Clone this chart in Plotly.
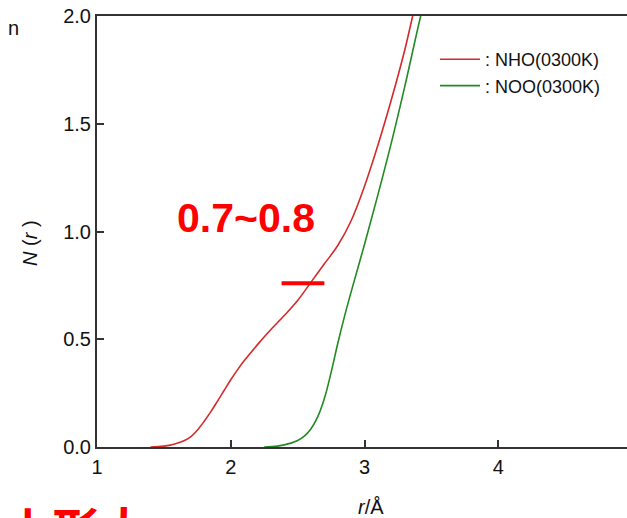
import plotly.graph_objects as go

# NHO (0300K) running coordination number
nho_r = [1.40, 1.50, 1.575, 1.65, 1.70, 1.75, 1.80, 1.85, 1.90, 1.95, 2.00, 2.05, 2.10,
         2.20, 2.30, 2.40, 2.50, 2.60, 2.70, 2.80, 2.90, 3.00, 3.10, 3.20, 3.30, 3.36, 3.40]
nho_n = [0.0, 0.004, 0.013, 0.029, 0.047, 0.078, 0.118, 0.163, 0.212, 0.262, 0.312, 0.358, 0.40,
         0.475, 0.545, 0.61, 0.68, 0.765, 0.85, 0.935, 1.05, 1.21, 1.40, 1.61, 1.84, 2.0, 2.11]

# NOO (0300K)
noo_r = [2.25, 2.35, 2.45, 2.50, 2.55, 2.60, 2.65, 2.70, 2.75, 2.80, 2.85, 2.90, 3.00,
         3.10, 3.20, 3.30, 3.42, 3.45]
noo_n = [0.0, 0.004, 0.018, 0.03, 0.05, 0.085, 0.14, 0.225, 0.345, 0.48, 0.605, 0.72, 0.94,
         1.17, 1.41, 1.67, 2.0, 2.07]

series_names = [": NHO(0300K)", ": NOO(0300K)"]
x_ticks = [1, 2, 3, 4]
y_ticks = [0.0, 0.5, 1.0, 1.5, 2.0]

mark_label = "0.7~0.8"
mark_r = [2.38, 2.70]
mark_n = 0.76

RED = "#d42a2a"
GREEN = "#238a23"
FONT = "Liberation Sans, Arial, sans-serif"

fig = go.Figure()
fig.add_trace(go.Scatter(x=nho_r, y=nho_n, mode="lines", name=series_names[0],
                         line=dict(color=RED, width=1.6, shape="spline", smoothing=1.0)))
fig.add_trace(go.Scatter(x=noo_r, y=noo_n, mode="lines", name=series_names[1],
                         line=dict(color=GREEN, width=1.6, shape="spline", smoothing=1.0)))

# red marker bar
fig.add_shape(type="line", x0=mark_r[0], x1=mark_r[1], y0=mark_n, y1=mark_n,
              xref="x", yref="y", line=dict(color="#ff0000", width=4))

W, H = 627, 518
L, R, T, B = 97, 0, 16, 71
PW, PH = W - L - R, H - T - B
px_per_unit = 133.75
x_max = 1 + PW / px_per_unit


def px(xp):
    return (xp - L) / PW


def py(yp):
    return (H - B - yp) / PH


fig.update_layout(
    width=W, height=H,
    margin=dict(l=L, r=R, t=T, b=B, autoexpand=False),
    paper_bgcolor="white", plot_bgcolor="white",
    font=dict(family=FONT, size=20, color="#111111"),
    showlegend=True,
    legend=dict(x=px(435), y=py(41), xanchor="left", yanchor="top",
                bgcolor="rgba(0,0,0,0)", font=dict(size=18, color="#111111"),
                itemwidth=40, tracegroupgap=0),
    xaxis=dict(range=[1, x_max], tickvals=x_ticks, ticktext=[str(v) for v in x_ticks],
               showgrid=False, zeroline=False, showline=True, linecolor="#333333",
               linewidth=2, mirror=True, ticks="inside", ticklen=7, tickwidth=1.5,
               tickcolor="#333333", tickfont=dict(size=20), ticklabelstandoff=1),
    yaxis=dict(range=[0, 2.0], tickvals=y_ticks, ticktext=[f"{v:.1f}" for v in y_ticks],
               showgrid=False, zeroline=False, showline=True, linecolor="#333333",
               linewidth=2, ticks="inside", ticklen=7, tickwidth=1.5,
               tickcolor="#333333", tickfont=dict(size=20)),
)

fig.add_annotation(text="<i>r</i>/Å", xref="paper", yref="paper",
                   x=px(371), y=py(507), showarrow=False, font=dict(size=20),
                   xanchor="center", yanchor="middle")
fig.add_annotation(text="<i>N</i> (<i>r</i> )", xref="paper", yref="paper",
                   x=px(30), y=py(243), showarrow=False, font=dict(size=20), textangle=-90,
                   xanchor="center", yanchor="middle")
fig.add_annotation(text="<b>" + mark_label + "</b>", xref="paper", yref="paper",
                   x=px(246), y=py(218), showarrow=False,
                   font=dict(size=41, color="#ff0000"), xanchor="center", yanchor="middle")
fig.add_annotation(text="n", xref="paper", yref="paper",
                   x=px(13), y=py(28), showarrow=False, font=dict(size=20),
                   xanchor="center", yanchor="middle")
fig.add_annotation(text="<b>山形大</b>", xref="paper", yref="paper",
                   x=px(2), y=py(490), showarrow=False,
                   font=dict(size=48, color="#ff0000", family="Noto Sans CJK JP"),
                   xanchor="left", yanchor="top")

fig.write_html("out.html", config={"displayModeBar": False},
               post_script="document.body.style.margin='0';document.body.style.overflow='hidden';")
